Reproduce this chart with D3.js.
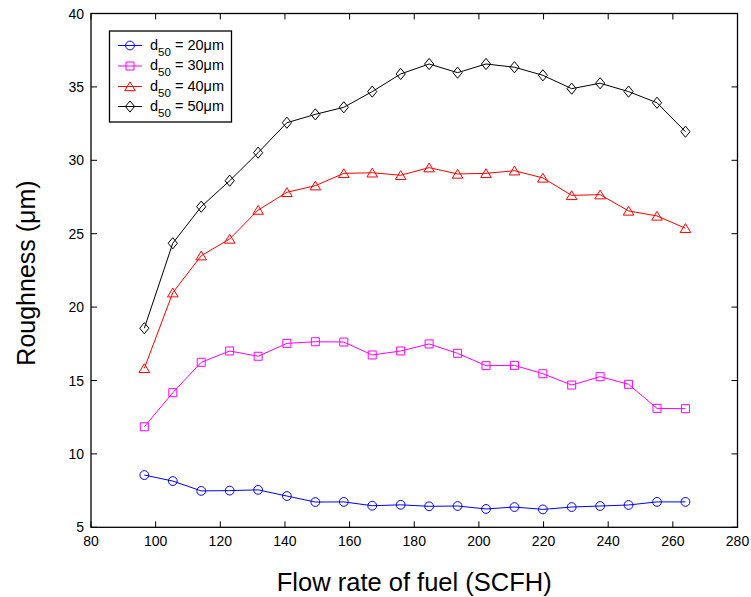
<!DOCTYPE html>
<html>
<head>
<meta charset="utf-8">
<script src="https://cdn.jsdelivr.net/npm/d3@7"></script>
<style>
  html, body { margin: 0; padding: 0; background: #fff; }
  svg { display: block; font-family: Arial, "Liberation Sans", Helvetica, sans-serif; }
</style>
</head>
<body>
<svg id="chart" width="751" height="597"></svg>
<script>
// Fuel flow rate (SCFH) at each measurement
const flowRate = [96.5, 105.3, 114.1, 122.9, 131.7, 140.6, 149.4, 158.2, 167.0, 175.8,
                  184.6, 193.4, 202.2, 211.0, 219.8, 228.7, 237.5, 246.3, 255.1, 263.9];

// Roughness (µm) for each particle size d50
const rough20 = [8.56, 8.15, 7.48, 7.50, 7.55, 7.13, 6.72, 6.73, 6.47, 6.53,
                 6.43, 6.45, 6.25, 6.38, 6.22, 6.38, 6.45, 6.52, 6.73, 6.73];
const rough30 = [11.85, 14.17, 16.24, 17.01, 16.65, 17.53, 17.64, 17.62, 16.74, 17.01,
                 17.49, 16.85, 16.01, 16.03, 15.46, 14.69, 15.26, 14.74, 13.10, 13.08];
const rough40 = [15.83, 20.98, 23.50, 24.64, 26.61, 27.82, 28.27, 29.11, 29.15, 28.98,
                 29.50, 29.07, 29.11, 29.29, 28.80, 27.61, 27.66, 26.55, 26.21, 25.37];
const rough50 = [18.56, 24.35, 26.84, 28.61, 30.52, 32.56, 33.13, 33.61, 34.68, 35.88,
                 36.56, 35.97, 36.56, 36.34, 35.79, 34.88, 35.25, 34.68, 33.92, 31.95];

const seriesSizes = ["20", "30", "40", "50"];
const seriesValues = [rough20, rough30, rough40, rough50];
const seriesColors = ["#0000ff", "#ff00ff", "#ff0000", "#000000"];
const seriesMarkers = ["circle", "square", "triangle", "diamond"];

const xTicks = [80, 100, 120, 140, 160, 180, 200, 220, 240, 260, 280];
const yTicks = [5, 10, 15, 20, 25, 30, 35, 40];

const xLabel = "Flow rate of fuel (SCFH)";
const yLabel = "Roughness (μm)";

const svg = d3.select("#chart");
const plotLeft = 91, plotRight = 737.5, plotTop = 13.5, plotBottom = 527.3;

const x = d3.scaleLinear().domain([80, 280]).range([plotLeft, plotRight]);
const y = d3.scaleLinear().domain([5, 40]).range([plotBottom, plotTop]);

// Marker shapes centred on (0,0)
function markerPath(kind) {
  switch (kind) {
    case "circle": return d3.symbol(d3.symbolCircle, Math.PI * 4.4 * 4.4)();
    case "square": return "M-4,-4H4V4H-4Z";
    case "triangle": return "M0,-4.6L5.3,4.2L-5.3,4.2Z";
    case "diamond": return "M0,-5.6L4.6,0L0,5.6L-4.6,0Z";
  }
}

const tickLen = 6;

// Ticks (pointing inward, mirrored on opposite sides)
const axisG = svg.append("g").attr("stroke", "#000").attr("stroke-width", 1);
xTicks.forEach(t => {
  axisG.append("line").attr("x1", x(t)).attr("x2", x(t)).attr("y1", plotBottom).attr("y2", plotBottom - tickLen);
  axisG.append("line").attr("x1", x(t)).attr("x2", x(t)).attr("y1", plotTop).attr("y2", plotTop + tickLen);
});
yTicks.forEach(t => {
  axisG.append("line").attr("x1", plotLeft).attr("x2", plotLeft + tickLen).attr("y1", y(t)).attr("y2", y(t));
  axisG.append("line").attr("x1", plotRight).attr("x2", plotRight - tickLen).attr("y1", y(t)).attr("y2", y(t));
});

// Tick labels
svg.append("g").selectAll("text").data(xTicks).join("text")
  .attr("x", d => x(d)).attr("y", plotBottom + 19)
  .attr("text-anchor", "middle").attr("font-size", 14).attr("fill", "#000")
  .text(d => d);
svg.append("g").selectAll("text").data(yTicks).join("text")
  .attr("x", plotLeft - 7).attr("y", d => y(d) + 5)
  .attr("text-anchor", "end").attr("font-size", 14).attr("fill", "#000")
  .text(d => d);

// Series lines and markers
const line = d3.line().x((d, i) => x(flowRate[i])).y(d => y(d));
seriesValues.forEach((vals, s) => {
  const g = svg.append("g");
  g.append("path").attr("d", line(vals)).attr("fill", "none")
    .attr("stroke", seriesColors[s]).attr("stroke-width", 1);
  g.selectAll("path.m").data(vals).join("path").attr("class", "m")
    .attr("d", markerPath(seriesMarkers[s]))
    .attr("transform", (d, i) => `translate(${x(flowRate[i])},${y(d)})`)
    .attr("fill", "none").attr("stroke", seriesColors[s]).attr("stroke-width", 1);
});

// Plot frame
svg.append("rect").attr("x", plotLeft).attr("y", plotTop)
  .attr("width", plotRight - plotLeft).attr("height", plotBottom - plotTop)
  .attr("fill", "none").attr("stroke", "#000").attr("stroke-width", 1.3);

// Legend
const lg = svg.append("g");
lg.append("rect").attr("x", 109.5).attr("y", 31).attr("width", 122).attr("height", 91)
  .attr("fill", "#fff").attr("stroke", "#000").attr("stroke-width", 1.3);
const rowY = [45.5, 66, 86.5, 106.5];
seriesSizes.forEach((sz, s) => {
  const ry = rowY[s];
  lg.append("line").attr("x1", 118).attr("x2", 142).attr("y1", ry).attr("y2", ry)
    .attr("stroke", seriesColors[s]).attr("stroke-width", 1);
  lg.append("path").attr("d", markerPath(seriesMarkers[s]))
    .attr("transform", `translate(130,${ry})`)
    .attr("fill", "none").attr("stroke", seriesColors[s]).attr("stroke-width", 1);
  const t = lg.append("text").attr("x", 150).attr("y", ry + 4)
    .attr("font-size", 14.5).attr("fill", "#000");
  t.append("tspan").text("d");
  t.append("tspan").attr("dy", 6).attr("font-size", 11.5).text("50");
  t.append("tspan").attr("dy", -6).text(` = ${sz}μm`);
});

// Axis titles
svg.append("text").attr("x", (plotLeft + plotRight) / 2).attr("y", 591)
  .attr("text-anchor", "middle").attr("font-size", 25.5).attr("fill", "#000")
  .text(xLabel);
svg.append("text").attr("transform", `translate(34.5,273) rotate(-90)`)
  .attr("text-anchor", "middle").attr("font-size", 25).attr("fill", "#000")
  .text(yLabel);
</script>
</body>
</html>
